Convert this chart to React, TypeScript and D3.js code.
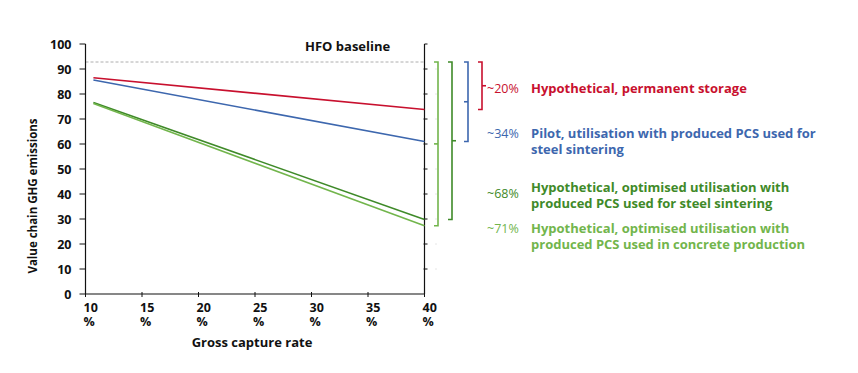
import * as d3 from 'd3'

const xTicks = [10, 15, 20, 25, 30, 35, 40]
const yTicks = [0, 10, 20, 30, 40, 50, 60, 70, 80, 90, 100]
const baseline = 92.8

const seriesNames = ['storage', 'pilot', 'steel', 'concrete']
const seriesColors = ['#C8102E', '#3D67AE', '#3F8A29', '#72B54C']
const startX = [10.7, 10.7, 10.7, 10.7]
const startY = [86.5, 85.6, 76.6, 76.2]
const endY = [73.8, 61.0, 29.8, 27.3]

const pctLabels = ['~20%', '~34%', '~68%', '~71%']
const descLines = [
  ['Hypothetical, permanent storage'],
  ['Pilot, utilisation with produced PCS used for', 'steel sintering'],
  ['Hypothetical, optimised utilisation with', 'produced PCS used for steel sintering'],
  ['Hypothetical, optimised utilisation with', 'produced PCS used in concrete production'],
]
// bracket column (x px) and which way the middle tick points
const bracketX = [482, 468, 452, 438]
const bracketMidDir = [1, -1, 1, -1]
const labelY = [88, 133, 187, 228]
const pctY = [88, 133, 193, 228]

const FONT = '"Open Sans", Lato, sans-serif'

export default function App() {
  const W = 858
  const H = 373
  const x = d3.scaleLinear().domain([10, 40]).range([85.5, 424.5])
  const y = d3.scaleLinear().domain([0, 100]).range([294, 44])
  const line = d3.line<[number, number]>().x((d) => x(d[0])).y((d) => y(d[1]))

  return (
    <svg width={W} height={H} style={{ position: 'absolute', left: 0, top: 0, background: '#fff' }} fontFamily={FONT}>
      {/* baseline */}
      <line x1={x(10)} x2={x(40)} y1={y(baseline)} y2={y(baseline)} stroke="#9a9a9a" strokeWidth={0.8} strokeDasharray="3,2" />
      <text x={305} y={51} fontSize={13} fontWeight={700} fill="#111">HFO baseline</text>

      {/* left axis */}
      <line x1={x(10)} x2={x(10)} y1={y(100)} y2={y(0)} stroke="#111" strokeWidth={1.2} />
      {yTicks.map((t) => (
        <g key={t}>
          <line x1={x(10) - 6} x2={x(10)} y1={y(t)} y2={y(t)} stroke="#111" strokeWidth={1} />
          <text x={x(10) - 14} y={y(t) + 4.5} fontSize={12.5} fontWeight={700} textAnchor="end" fill="#111">{t}</text>
        </g>
      ))}
      {/* right axis */}
      <line x1={x(40)} x2={x(40)} y1={y(100)} y2={y(0)} stroke="#111" strokeWidth={1.2} />
      <line x1={x(40)} x2={x(40) + 3} y1={y(100)} y2={y(100)} stroke="#111" strokeWidth={1} />
      {yTicks.filter((t) => t > 0 && t < 100).map((t) => (
        <g key={t}>
          <line x1={x(40) - 1} x2={x(40) + 3} y1={y(t)} y2={y(t)} stroke="#111" strokeWidth={1} />
          <line x1={x(40) + 11} x2={x(40) + 12} y1={y(t)} y2={y(t)} stroke="#ccc" strokeWidth={1} />
        </g>
      ))}
      {/* bottom axis */}
      <line x1={x(10)} x2={x(40)} y1={y(0)} y2={y(0)} stroke="#111" strokeWidth={1.2} />
      {xTicks.map((t) => (
        <g key={t}>
          <line x1={x(t)} x2={x(t)} y1={y(0) - 2} y2={y(0) + 3} stroke="#111" strokeWidth={1} />
          <text x={x(t) - 2} y={312} fontSize={12.5} fontWeight={700} fill="#111">
            <tspan x={x(t) - 2} y={312}>{t}</tspan>
            <tspan x={x(t) - 2} y={326}>%</tspan>
          </text>
        </g>
      ))}
      <text x={252} y={347} fontSize={13} fontWeight={700} textAnchor="middle" fill="#111">Gross capture rate</text>
      <text transform={`translate(37,${196}) rotate(-90)`} fontSize={11.5} fontWeight={700} textAnchor="middle" fill="#111">Value chain GHG emissions</text>

      {/* series */}
      {seriesNames.map((n, i) => (
        <path key={n} d={line([[startX[i], startY[i]], [40, endY[i]]]) ?? ''} fill="none" stroke={seriesColors[i]} strokeWidth={1.6} />
      ))}

      {/* brackets */}
      {seriesNames.map((n, i) => {
        const bx = bracketX[i]
        const top = y(baseline)
        const bot = y(endY[i])
        const mid = (top + bot) / 2
        const c = seriesColors[i]
        return (
          <g key={n} stroke={c} strokeWidth={1.6} fill="none">
            <path d={`M${bx - 4},${top}H${bx}V${bot}H${bx - 4}`} />
            <line x1={bx} x2={bx + 4 * bracketMidDir[i]} y1={mid} y2={mid} />
          </g>
        )
      })}

      {/* labels */}
      {seriesNames.map((n, i) => (
        <g key={n} fill={seriesColors[i]}>
          <text x={487} y={pctY[i] + 4.5} fontSize={12.5}>{pctLabels[i]}</text>
          {descLines[i].map((l, j) => (
            <text key={j} x={531} y={labelY[i] + 4.5 + j * 16} fontSize={13} fontWeight={700}>{l}</text>
          ))}
        </g>
      ))}
    </svg>
  )
}
